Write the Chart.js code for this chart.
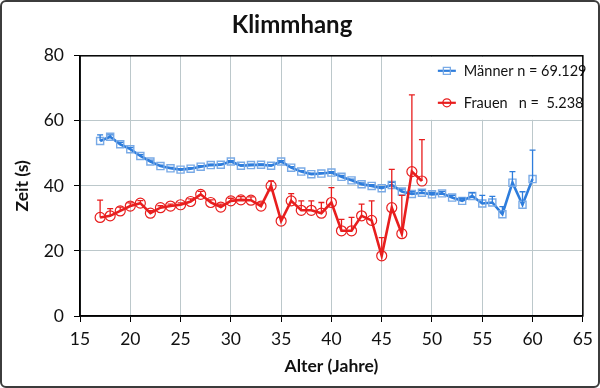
<!DOCTYPE html>
<html><head><meta charset="utf-8">
<script src="https://cdn.jsdelivr.net/npm/chart.js@4/dist/chart.umd.min.js"></script>
<style>html,body{margin:0;padding:0;background:#fff}canvas{display:block}</style>
</head><body>
<canvas id="c" width="600" height="388"></canvas>
<script>
// ---- data ----
const menAges = [17,18,19,20,21,22,23,24,25,26,27,28,29,30,31,32,33,34,35,36,37,38,39,40,41,42,43,44,45,46,47,48,49,50,51,52,53,54,55,56,57,58,59,60];
const menTime = [53.8,55.1,52.8,51.3,49.2,47.5,46.1,45.4,45.0,45.3,45.9,46.4,46.5,47.5,46.2,46.4,46.5,46.2,47.5,45.6,44.4,43.6,43.8,44.1,42.8,41.7,40.5,40.0,39.3,40.3,38.3,37.5,37.9,37.4,37.7,36.4,35.4,36.9,34.6,34.9,31.3,41.0,34.2,42.1];
const menErr  = [1.9,0.6,0.6,0.5,0.4,0.4,0.3,0.3,0.3,0.3,0.3,0.3,0.3,0.3,0.3,0.3,0.3,0.3,0.3,0.3,0.3,0.3,0.3,0.3,0.4,0.4,0.4,0.4,0.5,0.8,0.7,0.7,0.7,0.6,0.6,0.7,0.8,1.0,2.5,1.9,2.3,3.4,4.0,8.9];
const womenAges = [17,18,19,20,21,22,23,24,25,26,27,28,29,30,31,32,33,34,35,36,37,38,39,40,41,42,43,44,45,46,47,48,49];
const womenTime = [30.3,30.8,32.3,33.8,34.7,31.6,33.3,33.8,34.2,35.2,37.4,34.9,33.5,35.4,35.7,35.6,33.8,40.0,29.2,35.4,32.5,32.5,31.6,34.9,26.2,26.2,30.8,29.4,18.5,33.3,25.3,44.4,41.5];
const womenErr  = [5.3,2.2,1.2,1.0,0.8,0.8,0.6,0.6,0.6,0.8,0.9,0.8,0.9,0.8,1.0,1.0,1.0,1.5,1.2,2.2,2.9,2.9,3.3,4.6,3.5,4.1,3.6,6.0,5.6,11.8,11.8,23.6,12.7];
const xTicks = [15,20,25,30,35,40,45,50,55,60,65];
const yTicks = [0,20,40,60,80];
const seriesLabels = ['Männer n = 69.129', 'Frauen   n =  5.238'];
const titleText = 'Klimmhang';
const xTitle = 'Alter (Jahre)';
const yTitle = 'Zeit (s)';

const FONT = 'Lato, "Open Sans", sans-serif';
const BLUE = '#2e7ddc', BLUE_M = '#79aae6', RED = '#e81e1e';

const pts = (xs, ys) => xs.map((x, i) => ({x, y: ys[i]}));

const errorBars = {
  id: 'errorBars',
  afterDatasetsDraw(chart) {
    const ctx = chart.ctx, xs = chart.scales.x, ys = chart.scales.y;
    chart.data.datasets.forEach(ds => {
      ctx.save();
      ctx.strokeStyle = ds.borderColor; ctx.lineWidth = 1.3;
      ds.data.forEach((p, i) => {
        const e = ds.errPlus[i]; if (!e) return;
        const px = xs.getPixelForValue(p.x);
        const y0 = ys.getPixelForValue(p.y), y1 = ys.getPixelForValue(p.y + e);
        ctx.beginPath(); ctx.moveTo(px, y0); ctx.lineTo(px, y1);
        ctx.moveTo(px - 3, y1); ctx.lineTo(px + 3, y1); ctx.stroke();
      });
      ctx.restore();
    });
  }
};

const frame = {
  id: 'frame',
  beforeDraw(chart) {
    const ctx = chart.ctx;
    ctx.save(); ctx.fillStyle = '#fff'; ctx.fillRect(0, 0, chart.width, chart.height);
    ctx.strokeStyle = '#3c3c3c'; ctx.lineWidth = 2;
    ctx.beginPath(); ctx.roundRect(1, 1, chart.width - 2, chart.height - 2, 5); ctx.stroke();
    ctx.restore();
  },
  afterDraw(chart) {
    const ctx = chart.ctx, a = chart.chartArea;
    const lx = a.right - 156, ly = a.top, lh = 63;
    ctx.save();
    ctx.fillStyle = '#fff'; ctx.fillRect(lx, ly + 1, a.right - lx - 1, lh);
    ctx.font = '14.5px ' + FONT; ctx.textBaseline = 'middle'; ctx.fillStyle = '#111';
    chart.data.datasets.forEach((ds, i) => {
      const yy = ly + 15 + i * 32;
      ctx.strokeStyle = ds.borderColor; ctx.lineWidth = 2.2;
      ctx.beginPath(); ctx.moveTo(lx + 11, yy); ctx.lineTo(lx + 29, yy); ctx.stroke();
      ctx.strokeStyle = ds.pointBorderColor; ctx.lineWidth = 1.3;
      ctx.beginPath();
      if (ds.pointStyle === 'rect') ctx.rect(lx + 16.5, yy - 3.5, 7, 7);
      else ctx.arc(lx + 20, yy, 4, 0, Math.PI * 2);
      ctx.stroke();
      ctx.fillStyle = '#111';
      ctx.fillText(ds.label, lx + 37, yy + 1);
    });
    ctx.strokeStyle = '#000'; ctx.lineWidth = 1.5;
    ctx.strokeRect(a.left, a.top, a.right - a.left, a.bottom - a.top);
    ctx.restore();
  }
};

new Chart(document.getElementById('c'), {
  type: 'scatter',
  data: {
    datasets: [
      { label: seriesLabels[0], data: pts(menAges, menTime), errPlus: menErr, showLine: true,
        borderColor: BLUE, borderWidth: 2.6, pointStyle: 'rect', pointRadius: 5,
        pointBorderColor: BLUE_M, pointBackgroundColor: 'rgba(255,255,255,0)', pointBorderWidth: 1.4, order: 1 },
      { label: seriesLabels[1], data: pts(womenAges, womenTime), errPlus: womenErr, showLine: true,
        borderColor: RED, borderWidth: 2.6, pointStyle: 'circle', pointRadius: 5,
        pointBorderColor: RED, pointBackgroundColor: 'rgba(255,255,255,0)', pointBorderWidth: 1.2, order: 0 }
    ]
  },
  options: {
    responsive: false, animation: false, devicePixelRatio: 1,
    layout: { padding: { left: 0, right: 16, top: 0, bottom: 0 } },
    plugins: {
      legend: { display: false }, tooltip: { enabled: false },
      title: { display: true, text: titleText, color: '#111', font: { family: FONT, size: 24, weight: 'bold' }, padding: { top: 11, bottom: 16 } }
    },
    scales: {
      x: {
        type: 'linear', min: 15, max: 65,
        afterBuildTicks: s => { s.ticks = xTicks.map(v => ({ value: v })); },
        afterFit: s => { s.height = 72; },
        grid: { color: '#bcc8cb', lineWidth: 1, tickColor: '#000', tickLength: 6 },
        border: { color: '#000', width: 1.5 },
        ticks: { color: '#111', font: { family: FONT, size: 17.5 }, padding: 7, maxRotation: 0 },
        title: { display: true, text: xTitle, color: '#111', font: { family: FONT, size: 17.5, weight: 'bold' }, padding: { top: 0, bottom: 11 } }
      },
      y: {
        min: 0, max: 80,
        afterBuildTicks: s => { s.ticks = yTicks.map(v => ({ value: v })); },
        afterFit: s => { s.width = 80; },
        grid: { color: '#bcc8cb', lineWidth: 1, tickColor: '#000', tickLength: 6 },
        border: { color: '#000', width: 1.5 },
        ticks: { color: '#111', font: { family: FONT, size: 17.5 }, padding: 10 },
        title: { display: true, text: yTitle, color: '#111', font: { family: FONT, size: 17.5, weight: 'bold' }, padding: { top: 12, bottom: 0 } }
      }
    }
  },
  plugins: [frame, errorBars]
});
</script>
</body></html>
